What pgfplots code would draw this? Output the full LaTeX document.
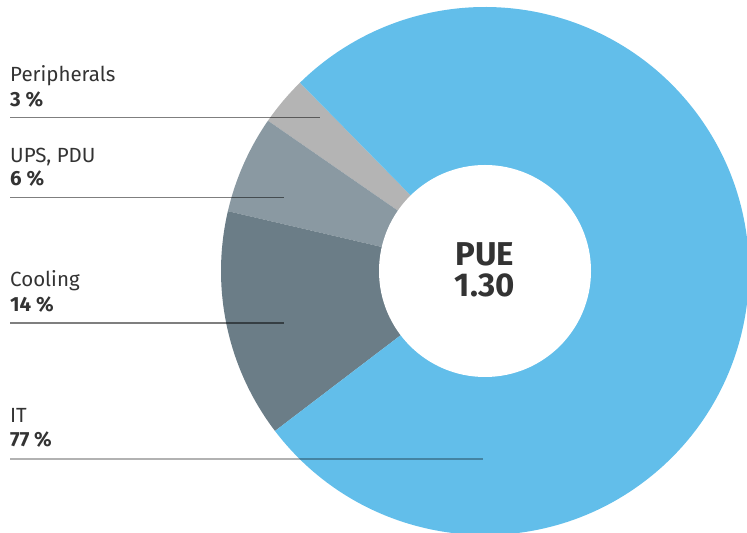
\documentclass[border=0pt]{standalone}
\usepackage{pgfplots}
\pgfplotsset{compat=1.18}
\usepackage{pgfplotstable}
\usepackage{fontspec}
\setmainfont{Fira Sans}
\definecolor{pIT}{HTML}{62BEEA}
\definecolor{pCool}{HTML}{6B7D87}
\definecolor{pUPS}{HTML}{8A99A2}
\definecolor{pPer}{HTML}{B4B4B4}
\definecolor{txt}{HTML}{333333}
\pgfplotstableread{
label share col
Peripherals 3 pPer
UPS 6 pUPS
Cooling 14 pCool
IT 77 pIT
}\pietable
\begin{document}
\begin{tikzpicture}
\begin{axis}[name=ax,x=1bp,y=1bp,xmin=0,xmax=747,ymin=0,ymax=533,
  hide axis,scale only axis,clip=true]
\def\cum{134.5}
\pgfplotsforeachungrouped \i in {0,...,3}{%
  \pgfplotstablegetelem{\i}{share}\of\pietable
  \pgfmathsetmacro{\sA}{\cum}%
  \pgfmathsetmacro{\sB}{\cum+3.6*\pgfplotsretval}%
  \pgfplotstablegetelem{\i}{col}\of\pietable
  \let\col\pgfplotsretval
  \edef\doit{\noexpand\fill[\col] (axis cs:485,262) -- ++(\sA:264bp) arc[start angle=\sA, end angle=\sB, radius=264bp] -- cycle;}%
  \doit
  \global\let\cum\sB
}
\fill[white] (axis cs:485,262) circle[radius=106bp];
\draw[black,opacity=0.5,line width=1.1bp] (axis cs:10,415.7) -- (axis cs:320,415.7);
\draw[black,opacity=0.5,line width=1.1bp] (axis cs:10,335.7) -- (axis cs:284,335.7);
\draw[black,opacity=0.5,line width=1.1bp] (axis cs:10,210) -- (axis cs:284,210);
\draw[black,opacity=0.3,line width=1.3bp] (axis cs:10,74) -- (axis cs:483,74);
\begin{scope}[every node/.style={anchor=base west,inner sep=0pt,text=txt,font=\fontsize{20.5bp}{24bp}\selectfont}]
\node at (axis cs:10,451.3) {Peripherals};
\node at (axis cs:10,426.3) {\bfseries 3 \%};
\node at (axis cs:10,370.7) {UPS, PDU};
\node at (axis cs:10,347) {\bfseries 6 \%};
\node at (axis cs:10,246.3) {Cooling};
\node at (axis cs:10,221) {\bfseries 14 \%};
\node at (axis cs:10,110) {IT};
\node at (axis cs:10,86) {\bfseries 77 \%};
\end{scope}
\node[anchor=base,inner sep=0pt,text=txt,font=\fontsize{33bp}{36bp}\selectfont\bfseries] at (axis cs:485,267) {PUE};
\node[anchor=base,inner sep=0pt,text=txt,font=\fontsize{33bp}{36bp}\selectfont\bfseries] at (axis cs:485,236) {1.30};
\end{axis}
\pgfresetboundingbox
\path[use as bounding box] (ax.south west) rectangle (ax.north east);
\end{tikzpicture}
\end{document}
